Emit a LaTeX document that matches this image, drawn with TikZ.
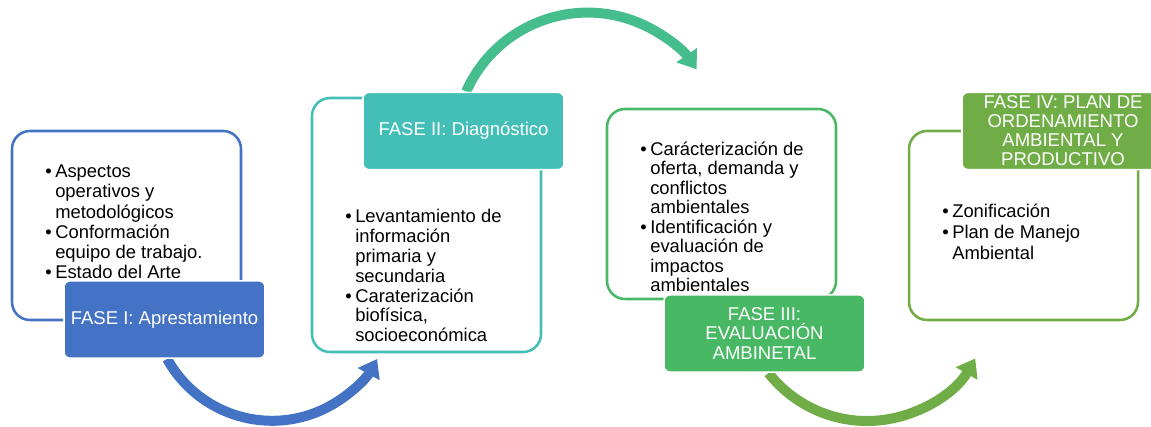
\documentclass[tikz,border=0pt]{standalone}
\usepackage{fontspec}
\setmainfont{Liberation Sans}
\usetikzlibrary{arrows.meta,backgrounds}
\definecolor{faseI}{HTML}{4472C4}
\definecolor{faseII}{HTML}{44BFB7}
\definecolor{arcII}{HTML}{45BD8C}
\definecolor{faseIII}{HTML}{48B865}
\definecolor{faseIV}{HTML}{70AD47}
\newcommand{\bul}{\makebox[7.5pt][l]{\textbullet}}
\newcommand{\sig}{\hspace*{7.5pt}}
\begin{document}
\begin{tikzpicture}[x=0.75pt,y=0.75pt,marco/.style={draw=#1,line width=1.9pt,rounded corners=13.5pt,minimum width=171.75pt,inner sep=0pt},fase/.style={fill=#1,draw=white,line width=1.2pt,rounded corners=4.5pt,minimum width=150.75pt,minimum height=58pt,text=white,align=center,inner sep=0pt,font=\fontsize{13.9}{14.3}\selectfont},lista/.style={anchor=base west,align=left,inner sep=0pt,font=\fontsize{13.8}{14.85}\selectfont},flecha/.style={draw=#1,line width=7.5pt,-{Triangle[width=18pt,length=13pt]}}]
\useasboundingbox (0,0) rectangle (1151,-427);

\node[marco=faseI,minimum height=141.75pt] (boxI) at (126.5,-225.5) {};
\node[marco=faseII,minimum height=190.5pt] (boxII) at (426.5,-225) {};
\node[marco=faseIII,minimum height=142.5pt] (boxIII) at (721.5,-204) {};
\node[marco=faseIV,minimum height=141.75pt] (boxIV) at (1023.5,-225.5) {};

\begin{scope}
\clip (0,-120) rectangle (300,-278);
\node[lista,font=\fontsize{13.8}{15.2}\selectfont] (txtI) at (45,-279) {\bul Aspectos\\\sig operativos y\\\sig metodológicos\\\bul Conformación\\\sig equipo de trabajo.\\\bul Estado del Arte};
\end{scope}
\node[lista] (txtII) at (345,-341.7) {\bul Levantamiento de\\\sig información\\\sig primaria y\\\sig secundaria\\\bul Caraterización\\\sig biofísica,\\\sig socioeconómica};
\begin{scope}
\clip (600,-100) rectangle (900,-293);
\node[lista,font=\fontsize{13.8}{14.6}\selectfont] (txtIII) at (640,-291.7) {\bul Carácterización de\\\sig oferta, demanda y\\\sig conflictos\\\sig ambientales\\\bul Identificación y\\\sig evaluación de\\\sig impactos\\\sig ambientales};
\end{scope}
\node[lista,font=\fontsize{13.8}{16}\selectfont] (txtIV) at (942,-260) {\bul Zonificación\\\bul Plan de Manejo\\\sig Ambiental};

\node[fase=faseI] (lblI) at (164.5,-319.5) {FASE I: Aprestamiento};
\node[fase=faseII] (lblII) at (463.5,-131) {FASE II: Diagnóstico};
\node[fase=faseIII] (lblIII) at (764.5,-333.5) {FASE III:\\EVALUACIÓN\\AMBINETAL};
\node[fase=faseIV,minimum width=151.5pt] (lblIV) at (1063,-131) {FASE IV: PLAN DE\\ORDENAMIENTO\\AMBIENTAL Y\\PRODUCTIVO};

\begin{scope}[on background layer]
\draw[flecha=faseI] ([xshift=2]lblI.south) arc[start angle=209,end angle=331,radius=120];
\draw[flecha=arcII] ([xshift=2]lblII.north) arc[start angle=156,end angle=35,radius=133];
\draw[flecha=faseIV] ([xshift=3]lblIII.south) arc[start angle=218,end angle=330,radius=125];
\end{scope}
\end{tikzpicture}
\end{document}
